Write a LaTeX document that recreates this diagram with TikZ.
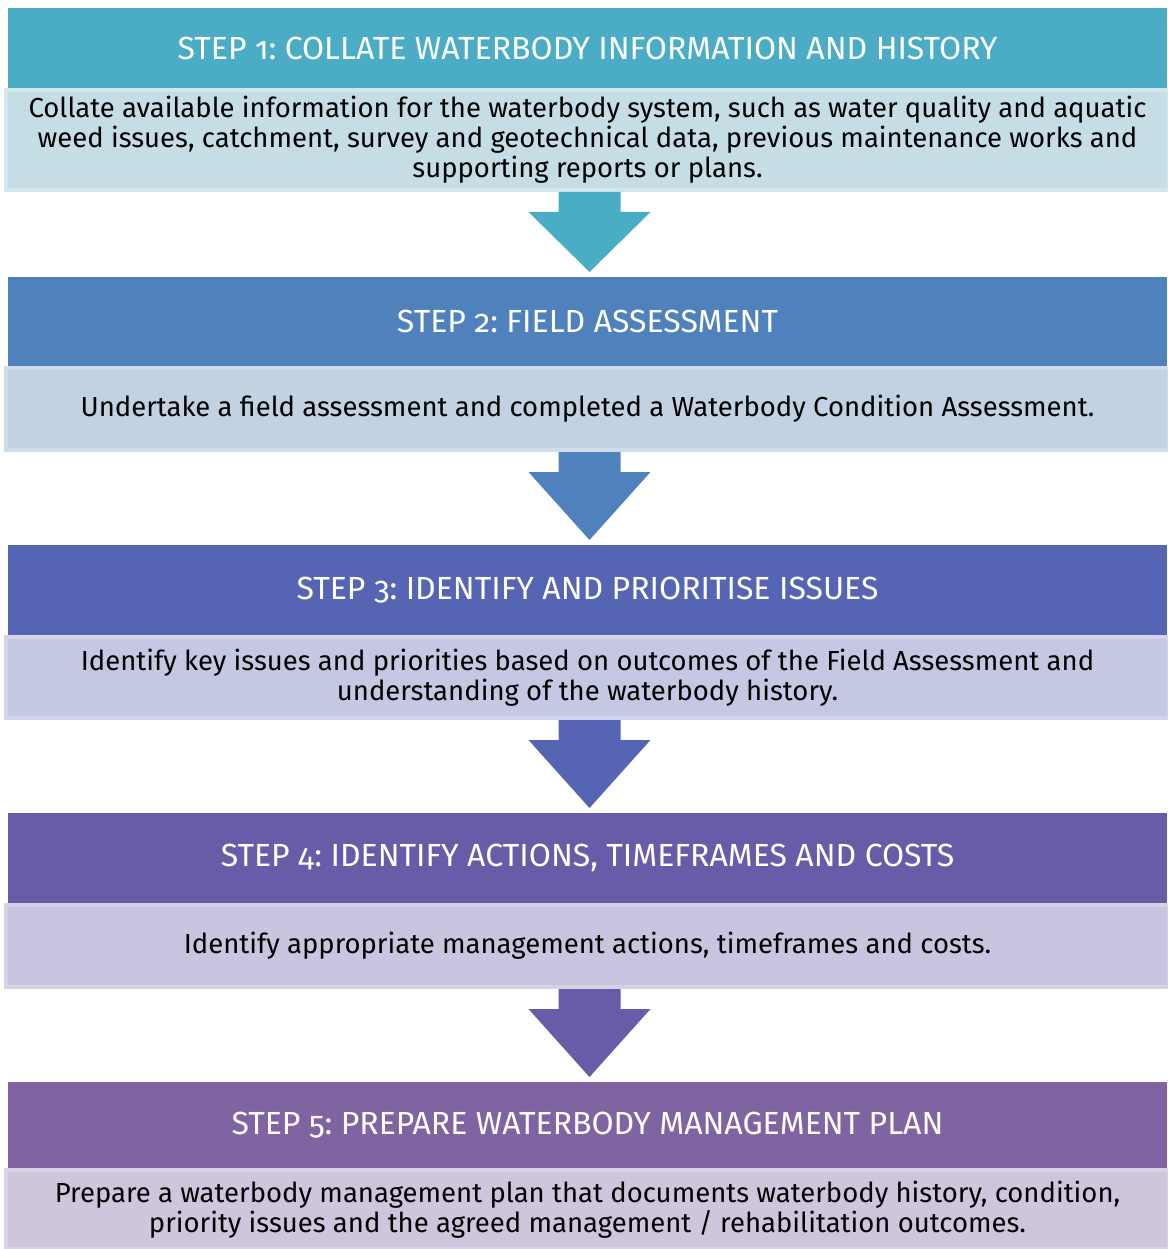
\documentclass[tikz,border=0pt]{standalone}
\usepackage{fontspec}
\setmainfont{Fira Sans}[Numbers=OldStyle,RawFeature=+onum]
\frenchspacing
\usetikzlibrary{calc}

\definecolor{headA}{HTML}{4BACC6}
\definecolor{headB}{HTML}{4F81BD}
\definecolor{headC}{HTML}{5665B3}
\definecolor{headD}{HTML}{6A5BA8}
\definecolor{headE}{HTML}{8064A2}
\definecolor{bodyA}{HTML}{C5DEE6}
\definecolor{bodyB}{HTML}{C2D2E3}
\definecolor{bodyC}{HTML}{C5C8E3}
\definecolor{bodyD}{HTML}{C9C4DF}
\definecolor{bodyE}{HTML}{CFC6DD}
\definecolor{edgeA}{HTML}{D4E6ED}
\definecolor{edgeB}{HTML}{D0DCEA}
\definecolor{edgeC}{HTML}{D2D4EA}
\definecolor{edgeD}{HTML}{D5D1E7}
\definecolor{edgeE}{HTML}{DAD3E5}

\begin{document}
\begin{tikzpicture}
[x=1pt,y=-1pt,
 head/.style={rectangle,anchor=north west,minimum width=1159pt,inner sep=0pt,outer sep=0pt,
   text=white,font=\fontsize{32}{36}\selectfont},
 body/.style={rectangle,anchor=north west,minimum width=1163pt,inner sep=0pt,outer sep=0pt,
   line width=4pt,align=center,font=\fontsize{27.5}{30}\selectfont}]
  \useasboundingbox (0,0) rectangle (1167,1249);

  \node[head,fill=headA,minimum height=80pt] (h1) at (8,8)    {STEP 1: COLLATE WATERBODY INFORMATION AND HISTORY};
  \node[head,fill=headB,minimum height=89pt] (h2) at (8,277)  {STEP 2: FIELD ASSESSMENT};
  \node[head,fill=headC,minimum height=90pt] (h3) at (8,545)  {STEP 3: IDENTIFY AND PRIORITISE ISSUES};
  \node[head,fill=headD,minimum height=90pt] (h4) at (8,813)  {STEP 4: IDENTIFY ACTIONS, TIMEFRAMES AND COSTS};
  \node[head,fill=headE,minimum height=86pt] (h5) at (8,1082) {STEP 5: PREPARE WATERBODY MANAGEMENT PLAN};

  \node[body,fill=bodyA,draw=edgeA,minimum height=100pt] (b1) at (6,90)
    {Collate available information for the waterbody system, such as water quality and aquatic\\
     weed issues, catchment, survey and geotechnical data, previous maintenance works and\\
     supporting reports or plans.};
  \node[body,fill=bodyB,draw=edgeB,minimum height=82pt] (b2) at (6,368)
    {Undertake a field assessment and completed a Waterbody Condition Assessment.};
  \node[body,fill=bodyC,draw=edgeC,minimum height=81pt] (b3) at (6,637)
    {Identify key issues and priorities based on outcomes of the Field Assessment and\\
     understanding of the waterbody history.};
  \node[body,fill=bodyD,draw=edgeD,minimum height=82pt] (b4) at (6,905)
    {Identify appropriate management actions, timeframes and costs.};
  \node[body,fill=bodyE,draw=edgeE,minimum height=79pt] (b5) at (6,1170)
    {Prepare a waterbody management plan that documents waterbody history, condition,\\
     priority issues and the agreed management / rehabilitation outcomes.};

  \foreach \from/\to/\col in {b1/h2/headA,b2/h3/headB,b3/h4/headC,b4/h5/headD}
    \fill[\col] ($(\from.south)+(-29,2)$) -- ($(\from.south)+(-29,22)$)
      -- ($(\from.south)+(-59,22)$) -- ($(\to.north)+(2,-5)$)
      -- ($(\from.south)+(63,22)$) -- ($(\from.south)+(33,22)$)
      -- ($(\from.south)+(33,2)$) -- cycle;
\end{tikzpicture}
\end{document}
